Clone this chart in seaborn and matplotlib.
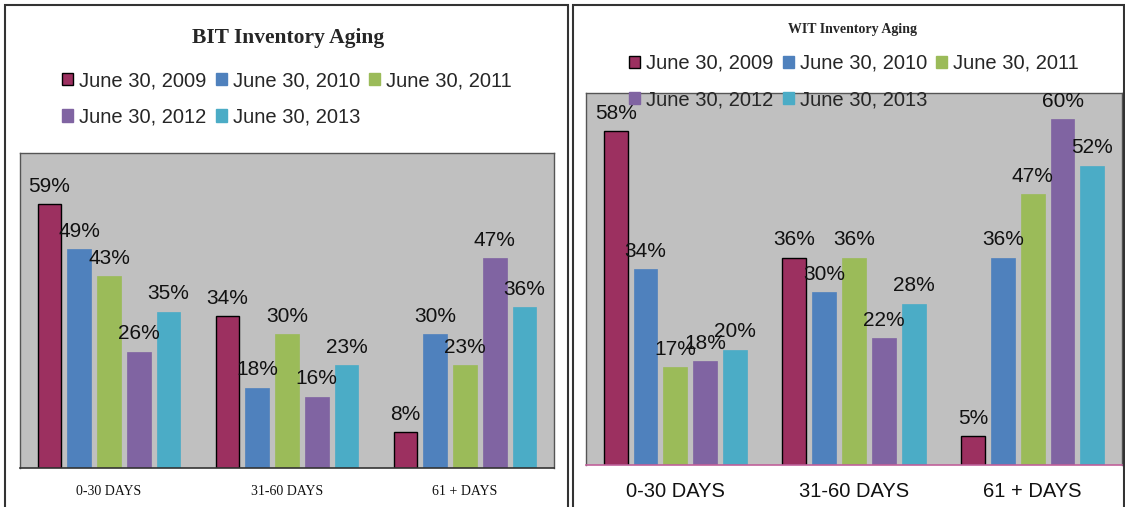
import pandas as pd
import matplotlib
matplotlib.use("Agg")
import matplotlib.pyplot as plt
from matplotlib.patches import Patch, Rectangle
import seaborn as sns

# 在庫エイジングのデータ
categories = ["0-30 DAYS", "31-60 DAYS", "61 + DAYS"]
dates = ["June 30, 2009", "June 30, 2010", "June 30, 2011",
         "June 30, 2012", "June 30, 2013"]
bit_2009 = [0.59, 0.34, 0.08]
bit_2010 = [0.49, 0.18, 0.30]
bit_2011 = [0.43, 0.30, 0.23]
bit_2012 = [0.26, 0.16, 0.47]
bit_2013 = [0.35, 0.23, 0.36]
wit_2009 = [0.58, 0.36, 0.05]
wit_2010 = [0.34, 0.30, 0.36]
wit_2011 = [0.17, 0.36, 0.47]
wit_2012 = [0.18, 0.22, 0.60]
wit_2013 = [0.20, 0.28, 0.52]
colors = ["#9C3060", "#4F81BD", "#9BBB59", "#8064A2", "#4BACC6"]

sns.set_theme(style="white")
plt.rcParams["font.family"] = ["Liberation Sans", "DejaVu Sans"]

W, H = 1125, 507


def long_df(series):
    rows = []
    for d, vals in zip(dates, series):
        for c, v in zip(categories, vals):
            rows.append({"aging": c, "date": d, "share": v})
    return pd.DataFrame(rows)


def panel(ax, df, ymax, bottom_color, tick_font, tick_size, tick_pad):
    sns.barplot(data=df, x="aging", y="share", hue="date", palette=colors,
                width=0.835, gap=0.2, ax=ax, legend=False, saturation=1)
    ax.set_facecolor("#C0C0C0")
    ax.set_ylim(0, ymax)
    ax.set_xlim(-0.5, 2.5)
    ax.set_yticks([])
    ax.set_xlabel("")
    ax.set_ylabel("")
    for s in ["left", "top", "right"]:
        ax.spines[s].set_color("#555555")
        ax.spines[s].set_linewidth(1)
    ax.spines["bottom"].set_color(bottom_color)
    ax.spines["bottom"].set_linewidth(1.2)
    ax.tick_params(axis="x", length=0, pad=tick_pad)
    for t in ax.get_xticklabels():
        t.set_family(tick_font)
        t.set_fontsize(tick_size)
        t.set_color("#111111")
    for i, cont in enumerate(ax.containers):
        for p in cont:
            if i == 0:
                p.set_edgecolor("black")
                p.set_linewidth(1)
            else:
                p.set_edgecolor(colors[i])
                p.set_linewidth(0.5)
        ax.bar_label(cont, labels=[f"{p.get_height():.0%}" for p in cont],
                     padding=6, fontsize=15, color="#111111")


fig = plt.figure(figsize=(W / 100, H / 100), dpi=100)

# パネル枠
for x0, x1 in [(5, 568), (573, 1124)]:
    fig.patches.append(Rectangle((x0 / W, -0.05), (x1 - x0) / W, 1.05 - 5 / H,
                                 transform=fig.transFigure, fill=False,
                                 edgecolor="#333333", linewidth=1.5))

ax1 = fig.add_axes([20 / W, (H - 468) / H, (554 - 20) / W, (468 - 153) / H])
ax2 = fig.add_axes([586 / W, (H - 465) / H, (1122 - 586) / W, (465 - 93) / H])

panel(ax1, long_df([bit_2009, bit_2010, bit_2011, bit_2012, bit_2013]),
      0.705, "#333333", "Liberation Serif", 10, 12)
panel(ax2, long_df([wit_2009, wit_2010, wit_2011, wit_2012, wit_2013]),
      0.646, "#C0609A", "Liberation Sans", 14.5, 12)

fig.text(288 / W, 1 - 38 / H, "BIT Inventory Aging", ha="center", va="center",
         family="Liberation Serif", fontweight="bold", fontsize=15.5)
fig.text(853 / W, 1 - 29 / H, "WIT Inventory Aging", ha="center", va="center",
         family="Liberation Serif", fontweight="bold", fontsize=10)

# 行優先の並びにするため列順に並べ替え
order = [0, 3, 1, 4, 2]
handles = [Patch(facecolor=c, edgecolor="black" if i == 0 else c, linewidth=1)
           for i, c in enumerate(colors)]
for cx, cy in [(287, 99), (854, 81.5)]:
    leg = fig.legend([handles[i] for i in order], [dates[i] for i in order],
                     loc="center", bbox_to_anchor=(cx / W, 1 - cy / H),
                     ncol=3, frameon=False, fontsize=14.5, handlelength=0.55,
                     handleheight=0.55, handletextpad=0.3, columnspacing=0.45,
                     labelspacing=0.85, borderpad=0)
    leg.set_zorder(10)

plt.savefig("out.png", dpi=100)
